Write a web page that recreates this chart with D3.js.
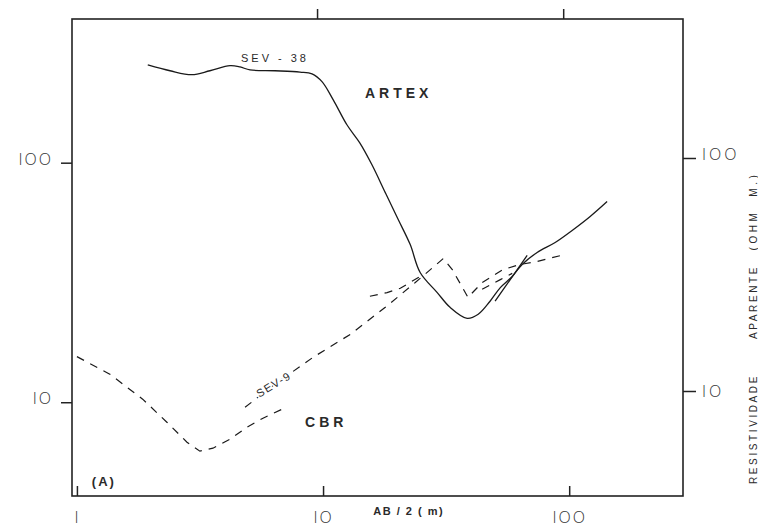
<!DOCTYPE html>
<html>
<head>
<meta charset="utf-8">
<script src="https://cdn.jsdelivr.net/npm/d3@7"></script>
<style>
  body { margin: 0; background: #fff; }
  svg { display: block; }
  text { font-family: "Liberation Sans", "DejaVu Sans", sans-serif; fill: #2a2a2a; }
  .num { font-family: "Open Sans", "Lato", "DejaVu Sans", sans-serif; font-weight: 300; fill: #333; }
</style>
</head>
<body>
<div id="chart"></div>
<script>
// SEV-38 (ARTEX), curva continua: [AB/2 (m), resistividade (ohm.m)]
const sev38 = [
  [1.94, 256], [2.39, 242], [2.93, 233], [3.47, 242], [4.19, 254], [4.6, 251],
  [5.05, 244], [6.38, 242], [8.06, 239], [9.02, 235], [9.9, 218], [11.0, 183],
  [12.5, 144], [14.1, 121], [15.8, 98], [17.9, 75], [20.2, 57.9], [22.6, 45.5],
  [24.8, 34.8], [29.1, 28.7], [32.8, 24.9], [38.5, 22.4], [42.7, 23.3], [47.7, 26.4],
  [52.5, 30.1], [58.7, 33.5], [64.4, 37.6], [74.1, 42.2], [87.7, 46.4], [102.8, 52.1],
  [121.7, 59.6], [142.6, 68.8]
];
// segundo trecho (embreagem) da SEV-38
const sev38b = [[50, 26.4], [57.6, 32.5], [67.5, 41]];

// SEV-9 (CBR), curva tracejada em varios trechos
const sev9a = [
  [1.0, 15.5], [1.36, 13.1], [1.85, 10.3], [2.32, 8.25], [2.8, 6.81], [3.16, 6.25],
  [3.57, 6.43], [4.19, 7.01], [4.91, 7.87], [5.7, 8.58], [6.81, 9.35]
];
const sev9b = [
  [4.82, 9.53], [6.38, 11.9], [9.11, 15.4], [12.9, 19.2], [17.9, 24.9], [23.7, 31.6],
  [30.8, 39.8], [33.5, 35.8], [38.8, 27.4], [44.3, 31.6], [53.9, 35.8], [63.2, 37.6],
  [74.1, 38.7], [96.3, 41.4]
];
const sev9c = [[15.5, 27.7], [18.2, 28.7], [20.6, 29.9], [24.8, 33.5]];
const sev9d = [[44.3, 29.6], [52.5, 32.5], [58.7, 34.5]];

const xTicks = [1, 10, 100];
const xTickLabels = ["I", "IO", "IOO"];
const yTicks = [10, 100];
const yTickLabels = ["IO", "IOO"];

const width = 758, height = 527;
const svg = d3.select("#chart").append("svg")
  .attr("width", width).attr("height", height);

const x = d3.scaleLog().domain([0.955, 290]).range([72, 683]);
const y = d3.scaleLog().domain([4.06, 398]).range([496, 19]);
// eixo direito (escaneado levemente torto)
const yR = d3.scaleLog().domain([10, 100]).range([391, 158]);

// moldura
svg.append("rect")
  .attr("x", x.range()[0]).attr("y", y.range()[1])
  .attr("width", x.range()[1] - x.range()[0])
  .attr("height", y.range()[0] - y.range()[1])
  .attr("fill", "none").attr("stroke", "#222").attr("stroke-width", 1.6);

// eixo inferior
const axB = svg.append("g")
  .attr("transform", `translate(0,${y.range()[0]})`)
  .call(d3.axisBottom(x).tickValues(xTicks).tickSize(10)
    .tickFormat((d, i) => xTickLabels[i]));
axB.select(".domain").remove();
axB.selectAll("line").attr("stroke", "#222").attr("stroke-width", 1.5).attr("y2", -10);
axB.selectAll("text").attr("class", "num").attr("y", 16).attr("font-size", 16)
  .attr("letter-spacing", 2);

// eixo superior (so marcas)
const axT = svg.append("g")
  .attr("transform", `translate(-6,${y.range()[1]})`)
  .call(d3.axisTop(x).tickValues(xTicks.slice(1)).tickSize(10).tickFormat(""));
axT.select(".domain").remove();
axT.selectAll("line").attr("stroke", "#222").attr("stroke-width", 1.5);

// eixo esquerdo
const axL = svg.append("g")
  .attr("transform", `translate(${x.range()[0]},0)`)
  .call(d3.axisLeft(y).tickValues(yTicks).tickSize(11)
    .tickFormat((d, i) => yTickLabels[i]));
axL.select(".domain").remove();
axL.selectAll("line").attr("stroke", "#222").attr("stroke-width", 1.5);
axL.selectAll("text").attr("class", "num").attr("x", -19).attr("dy", "0.1em")
  .attr("font-size", 16).attr("letter-spacing", 2);

// eixo direito
const axR = svg.append("g")
  .attr("transform", `translate(${x.range()[1]},0)`)
  .call(d3.axisRight(yR).tickValues(yTicks).tickSize(13)
    .tickFormat((d, i) => yTickLabels[i]));
axR.select(".domain").remove();
axR.selectAll("line").attr("stroke", "#222").attr("stroke-width", 1.5);
axR.selectAll("text").attr("class", "num").attr("x", 19)
  .attr("dy", (d, i) => i === 0 ? "0.35em" : "0.1em")
  .attr("font-size", 16).attr("letter-spacing", 3);

// curvas
const line = d3.line().x(d => x(d[0])).y(d => y(d[1]));
const smooth = d3.line().x(d => x(d[0])).y(d => y(d[1])).curve(d3.curveCatmullRom.alpha(0.5));

[sev38, sev38b].forEach(s => {
  svg.append("path").datum(s).attr("d", smooth)
    .attr("fill", "none").attr("stroke", "#1a1a1a").attr("stroke-width", 1.3);
});
[sev9a, sev9b, sev9c, sev9d].forEach(s => {
  svg.append("path").datum(s).attr("d", line)
    .attr("fill", "none").attr("stroke", "#1a1a1a").attr("stroke-width", 1.2)
    .attr("stroke-dasharray", "8,7");
});

// rotulos
svg.append("text").attr("x", x(4.64)).attr("y", y(264))
  .attr("font-size", 11).attr("letter-spacing", 3).text("SEV - 38");
svg.append("text").attr("x", x(14.8)).attr("y", y(186))
  .attr("font-size", 14).attr("font-weight", "bold").attr("letter-spacing", 4).text("ARTEX");
svg.append("text").attr("x", x(8.45)).attr("y", y(7.87))
  .attr("font-size", 14).attr("font-weight", "bold").attr("letter-spacing", 4).text("CBR");
svg.append("text").attr("x", x(1.15)).attr("y", y(4.47))
  .attr("font-size", 13).attr("font-weight", "bold").attr("letter-spacing", 2).text("(A)");
svg.append("text")
  .attr("transform", `translate(${x(5.5)},${y(10.45)}) rotate(-31)`)
  .attr("font-size", 11).attr("letter-spacing", 1.5)
  .attr("stroke", "#fff").attr("stroke-width", 3).attr("paint-order", "stroke")
  .text("SEV-9");
svg.append("text").attr("x", x(16)).attr("y", y(3.38))
  .attr("font-size", 11).attr("font-weight", "bold").attr("letter-spacing", 1.5)
  .attr("xml:space", "preserve").text("AB / 2 ( m)");

// titulo do eixo y (direita, vertical)
[["RESISTIVIDADE", 429, 2.6], ["APARENTE", 302, 2.6], ["(OHM  M.)", 211, 3.6]].forEach(t => {
  svg.append("text")
    .attr("transform", `translate(757,${t[1]}) rotate(-90)`)
    .attr("text-anchor", "middle").attr("font-size", 10)
    .attr("xml:space", "preserve")
    .attr("letter-spacing", t[2]).attr("fill", "#333").text(t[0]);
});
</script>
</body>
</html>
